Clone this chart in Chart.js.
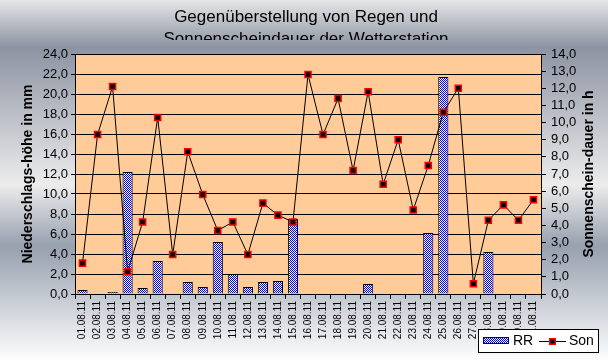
<!DOCTYPE html>
<html>
<head>
<meta charset="utf-8">
<script src="https://cdn.jsdelivr.net/npm/chart.js@4"></script>
<style>
  html, body { margin: 0; padding: 0; background: #fff; }
  #wrap { width: 608px; height: 362px; position: relative; }
</style>
</head>
<body>
<div id="wrap"><canvas id="chart" width="608" height="362"></canvas></div>
<script>
// Daten (August 2011)
const tage = ['01.08.11','02.08.11','03.08.11','04.08.11','05.08.11','06.08.11','07.08.11','08.08.11',
  '09.08.11','10.08.11','11.08.11','12.08.11','13.08.11','14.08.11','15.08.11','16.08.11',
  '17.08.11','18.08.11','19.08.11','20.08.11','21.08.11','22.08.11','23.08.11','24.08.11',
  '25.08.11','26.08.11','27.08.11','28.08.11','29.08.11','30.08.11','31.08.11'];
const regen = [0.4, 0, 0.2, 12.2, 0.6, 3.3, 0, 1.2, 0.7, 5.2, 2.0, 0.7, 1.2, 1.3, 7.5, 0,
  0, 0, 0, 1.0, 0, 0, 0, 6.1, 21.7, 0, 0, 4.2, 0, 0, 0];
const sonne = [1.8, 9.3, 12.1, 1.3, 4.2, 10.3, 2.3, 8.3, 5.8, 3.7, 4.2, 2.3, 5.3, 4.6, 4.2, 12.8,
  9.3, 11.4, 7.2, 11.8, 6.4, 9.0, 4.9, 7.5, 10.6, 12.0, 0.6, 4.3, 5.2, 4.3, 5.5];
const titelZeilen = ['Gegenüberstellung von Regen und', 'Sonnenscheindauer der Wetterstation'];
const achseLinks = 'Niederschlags-höhe in mm';
const achseRechts = 'Sonnenschein-dauer in h';

const FONT = '"Liberation Sans", Arial, sans-serif';

// Karomuster für die Balken
function karo() {
  const c = document.createElement('canvas');
  c.width = 2; c.height = 2;
  const g = c.getContext('2d');
  g.fillStyle = '#ffffff'; g.fillRect(0, 0, 2, 2);
  g.fillStyle = '#0000ff'; g.fillRect(0, 0, 1, 1); g.fillRect(1, 1, 1, 1);
  return g.createPattern(c, 'repeat');
}
const muster = karo();

const komma = v => Number(v).toFixed(1).replace('.', ',');

const hintergrund = {
  id: 'hintergrund',
  beforeDraw(chart) {
    const ctx = chart.ctx, a = chart.chartArea;
    const gr = ctx.createLinearGradient(0, 0, 0, chart.height);
    gr.addColorStop(0, '#e6e6e8');
    gr.addColorStop(0.13, '#8c93a2');
    gr.addColorStop(0.51, '#ececec');
    gr.addColorStop(0.68, '#97a0ae');
    gr.addColorStop(1, '#ffffff');
    ctx.save();
    ctx.fillStyle = gr;
    ctx.fillRect(0, 0, chart.width, chart.height);
    ctx.fillStyle = '#ffcc99';
    ctx.fillRect(a.left, a.top, a.right - a.left, a.bottom - a.top);
    ctx.restore();
  },
  afterDraw(chart) {
    const ctx = chart.ctx, a = chart.chartArea;
    const mitte = (a.top + a.bottom) / 2;
    ctx.save();
    // Titel (zweite Zeile wird abgeschnitten)
    ctx.save();
    ctx.beginPath();
    ctx.rect(0, 0, chart.width, 40);
    ctx.clip();
    ctx.fillStyle = '#000';
    ctx.font = '17px ' + FONT;
    ctx.textAlign = 'center';
    ctx.textBaseline = 'alphabetic';
    ctx.fillText(titelZeilen[0], 306, 22);
    ctx.fillText(titelZeilen[1], 306, 43.7);
    ctx.restore();

    // Achsentitel
    ctx.font = 'bold 14px ' + FONT;
    ctx.fillStyle = '#000';
    ctx.textAlign = 'center';
    ctx.textBaseline = 'middle';
    ctx.save();
    ctx.translate(28, mitte);
    ctx.rotate(-Math.PI / 2);
    ctx.fillText(achseLinks, 0, 0);
    ctx.restore();
    ctx.save();
    ctx.translate(589, mitte);
    ctx.rotate(-Math.PI / 2);
    ctx.fillText(achseRechts, 0, 0);
    ctx.restore();

    // Legende
    ctx.fillStyle = '#fff';
    ctx.fillRect(478.5, 329.5, 120, 23);
    ctx.strokeStyle = '#000';
    ctx.lineWidth = 1;
    ctx.strokeRect(478.5, 329.5, 120, 23);
    ctx.fillStyle = muster;
    ctx.fillRect(483, 337, 26, 7);
    ctx.strokeStyle = '#000080';
    ctx.strokeRect(483.5, 337.5, 25, 6);
    ctx.fillStyle = '#000';
    ctx.font = '14px ' + FONT;
    ctx.textAlign = 'left';
    ctx.textBaseline = 'middle';
    ctx.fillText(chart.data.datasets[0].label, 513, 341.5);
    ctx.strokeStyle = '#000';
    ctx.beginPath();
    ctx.moveTo(539, 341.5); ctx.lineTo(566, 341.5);
    ctx.stroke();
    ctx.fillStyle = '#ff0000';
    ctx.fillRect(549, 338, 7, 7);
    ctx.fillStyle = '#000';
    ctx.fillRect(550.5, 339.5, 4, 4);
    ctx.fillText(chart.data.datasets[1].label, 569, 341.5);
    ctx.restore();
  }
};

new Chart(document.getElementById('chart'), {
  type: 'bar',
  data: {
    labels: tage,
    datasets: [{
      type: 'bar',
      label: 'RR',
      data: regen,
      yAxisID: 'y',
      backgroundColor: muster,
      borderColor: '#000',
      borderWidth: 1,
      barPercentage: 0.75,
      categoryPercentage: 0.9,
      order: 1
    }, {
      type: 'line',
      label: 'Son',
      data: sonne,
      yAxisID: 'y1',
      borderColor: '#000',
      borderWidth: 1,
      tension: 0,
      pointStyle: 'rect',
      pointRadius: 4.3,
      pointBorderWidth: 1.5,
      pointBorderColor: '#ff0000',
      pointBackgroundColor: '#000',
      order: 0
    }]
  },
  options: {
    responsive: false,
    animation: false,
    layout: { padding: { top: 54, left: 0, right: 0, bottom: 0 } },
    plugins: {
      legend: { display: false },
      title: { display: false },
      tooltip: { enabled: false }
    },
    scales: {
      x: {
        offset: true,
        grid: { offset: true, drawOnChartArea: false, color: '#000', tickLength: 5 },
        border: { color: '#000' },
        ticks: { color: '#000', font: { size: 10, family: FONT }, maxRotation: 90, minRotation: 90, autoSkip: false, padding: 2 },
        afterFit(s) { s.height = 68; }
      },
      y: {
        position: 'left',
        min: 0, max: 24,
        ticks: { stepSize: 2, autoSkip: false, color: '#000', font: { size: 13, family: FONT }, padding: 3, callback: v => komma(v) },
        grid: { color: '#000', tickLength: 4 },
        border: { color: '#000' },
        afterFit(s) { s.width = 75; }
      },
      y1: {
        position: 'right',
        min: 0, max: 14,
        ticks: { stepSize: 1, autoSkip: false, color: '#000', font: { size: 13, family: FONT }, padding: 5, callback: v => komma(v) },
        grid: { drawOnChartArea: false, color: '#000', tickLength: 5 },
        border: { color: '#000' },
        afterFit(s) { s.width = 67; }
      }
    }
  },
  plugins: [hintergrund]
});
</script>
</body>
</html>
